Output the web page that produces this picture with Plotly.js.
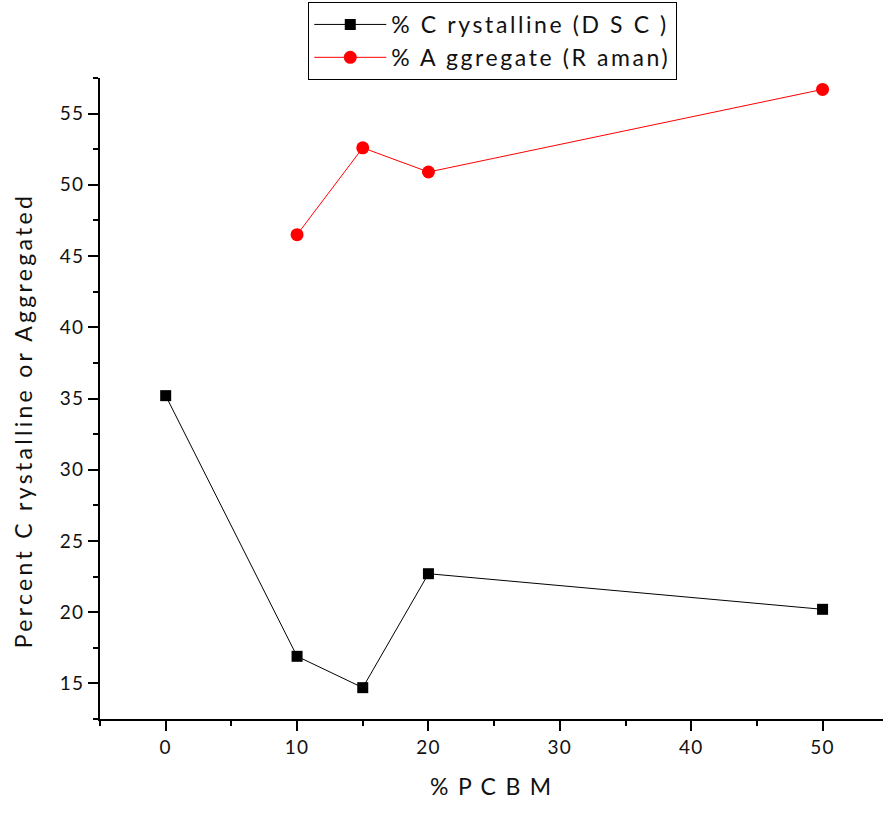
<!DOCTYPE html>
<html>
<head>
<meta charset="utf-8">
<script src="https://cdn.plot.ly/plotly-3.0.1.min.js"></script>
<style>
html,body{margin:0;padding:0;background:#fff;}
#chart{width:883px;height:815px;}
.legendtext{letter-spacing:2.6px;}
.annotation-text{letter-spacing:3.3px;}
.xtitle{letter-spacing:1.8px;}
#chart .xtick text, #chart .ytick text{letter-spacing:1.2px;}
</style>
</head>
<body>
<div id="chart"></div>
<script>
var pcbm_dsc = [0, 10, 15, 20, 50];
var crystalline_dsc = [35.2, 16.9, 14.7, 22.7, 20.2];
var pcbm_raman = [10, 15, 20, 50];
var aggregate_raman = [46.5, 52.6, 50.9, 56.7];
var seriesNames = ["% C rystalline (D S C )", "% A ggregate (R aman)"];
var xTitle = "% P C B M";
var yTitle = "Percent C rystalline or Aggregated";
var xTicks = [0, 10, 20, 30, 40, 50];
var yTicks = [15, 20, 25, 30, 35, 40, 45, 50, 55];

var FONT = "Lato, 'Open Sans', sans-serif";

var traces = [
  {x: pcbm_dsc, y: crystalline_dsc, name: seriesNames[0], type: 'scatter', mode: 'lines+markers',
   line: {color: '#000', width: 1}, marker: {symbol: 'square', size: 11, color: '#000'}},
  {x: pcbm_raman, y: aggregate_raman, name: seriesNames[1], type: 'scatter', mode: 'lines+markers',
   line: {color: '#ff0000', width: 1}, marker: {symbol: 'circle', size: 13, color: '#ff0000'}}
];

var axisCommon = {
  showgrid: false, zeroline: false, showline: true, linecolor: '#000', linewidth: 2,
  ticks: 'outside', ticklen: 10, tickwidth: 2, tickcolor: '#000',
  tickfont: {family: FONT, size: 19, color: '#111'}
};

var layout = {
  width: 883, height: 815,
  margin: {l: 100, r: 0, t: 78, b: 96},
  paper_bgcolor: '#fff', plot_bgcolor: '#fff',
  showlegend: true,
  legend: {x: 0.266, y: 1.1186, xanchor: 'left', yanchor: 'top',
    bordercolor: '#000', borderwidth: 1, bgcolor: '#fff',
    font: {family: FONT, size: 23, color: '#111'}, itemwidth: 72, tracegroupgap: 0},
  xaxis: Object.assign({}, axisCommon, {
    range: [-5, 54.6], tickmode: 'array', tickvals: xTicks, ticktext: xTicks.map(String),
    minor: {dtick: 5, ticklen: 5, tickwidth: 2, tickcolor: '#000', ticks: 'outside'},
    title: {text: xTitle, font: {family: FONT, size: 23, color: '#111'}, standoff: 22}
  }),
  yaxis: Object.assign({}, axisCommon, {
    range: [12.5, 57.5], tickmode: 'array', tickvals: yTicks, ticktext: yTicks.map(String),
    minor: {tickvals: [12.5,17.5,22.5,27.5,32.5,37.5,42.5,47.5,52.5,57.5], ticklen: 5, tickwidth: 2, tickcolor: '#000', ticks: 'outside'},
    title: {text: ''}
  }),
  annotations: [{
    text: yTitle, xref: 'paper', yref: 'paper', x: -0.098, y: 0.465,
    xanchor: 'center', yanchor: 'middle', textangle: -90, showarrow: false,
    font: {family: FONT, size: 23, color: '#111'}
  }]
};

Plotly.newPlot('chart', traces, layout, {displayModeBar: false, staticPlot: true});
</script>
</body>
</html>
